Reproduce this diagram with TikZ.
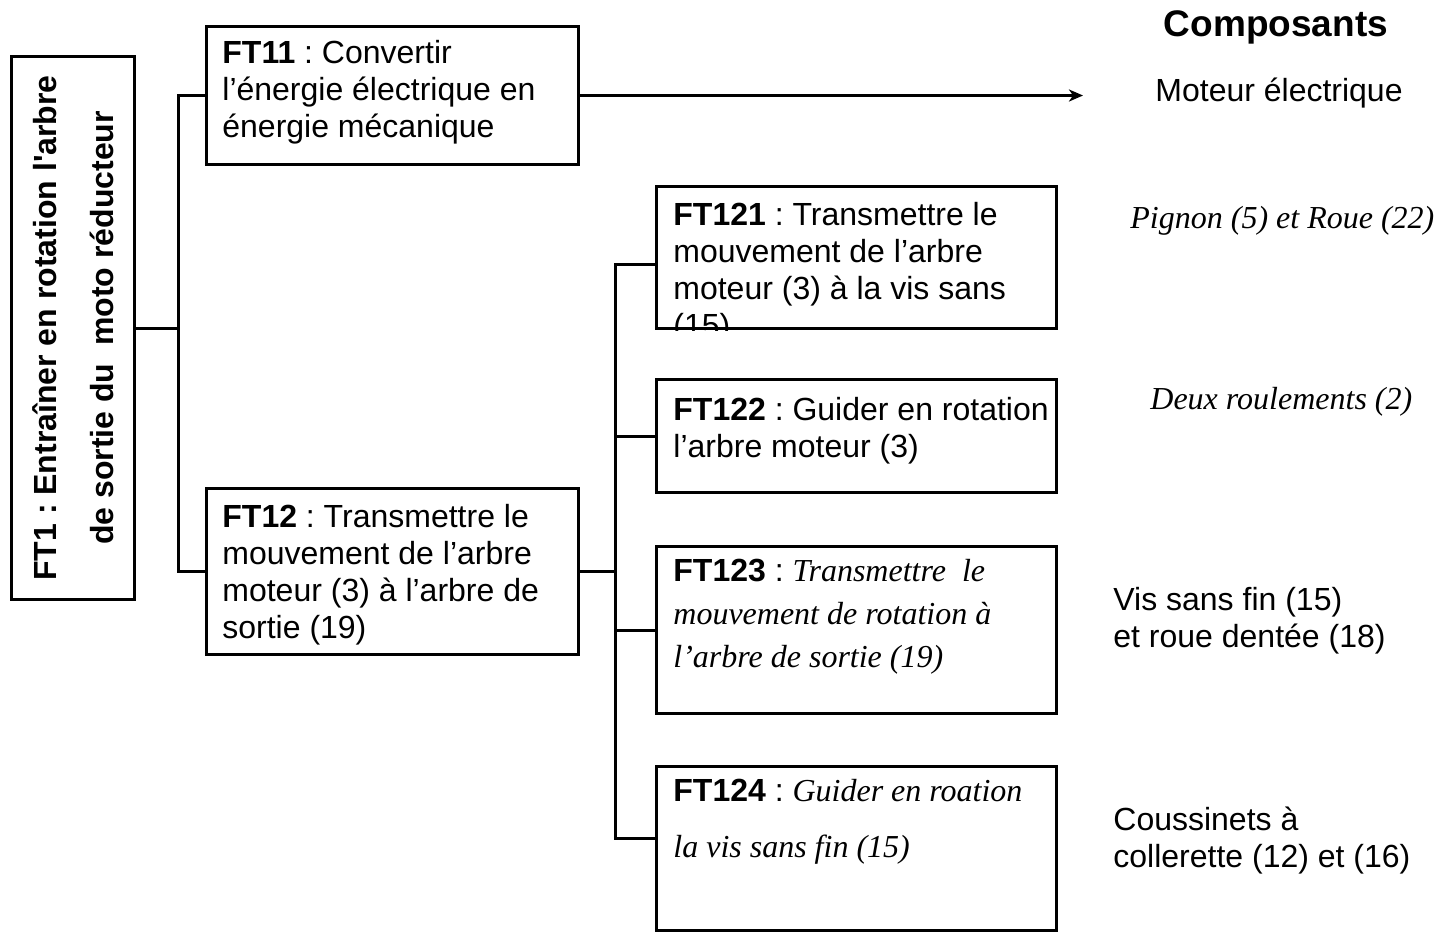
\documentclass[tikz,border=0pt]{standalone}
\usepackage{fontspec}
\setmainfont{Liberation Serif}
\setsansfont{Liberation Sans}
\usetikzlibrary{arrows.meta,positioning}
\frenchspacing

\newcommand{\serifit}[1]{{\rmfamily\itshape #1}}

\tikzset{
  bloc/.style={draw, line width=1.5pt, inner sep=0pt, anchor=north west},
  texte/.style={inner sep=0pt, align=left, font=\sffamily\fontsize{16}{18.5}\selectfont},
  lien/.style={line width=1.5pt},
}

\begin{document}
\begin{tikzpicture}[x=1pt,y=-1pt]
\useasboundingbox (0,0) rectangle (726,466);

% blocs
\node[bloc, minimum width=61.5pt, minimum height=271.5pt] (ft1) at (5,27.5) {};
\node[bloc, minimum width=186pt, minimum height=69pt] (ft11) at (102.5,12.5) {};
\node[bloc, minimum width=186pt, minimum height=83pt] (ft12) at (102.5,243.5) {};
\node[bloc, minimum width=200pt, minimum height=71pt] (ft121) at (327.5,92.5) {};
\node[bloc, minimum width=200pt, minimum height=56.5pt] (ft122) at (327.5,189) {};
\node[bloc, minimum width=200pt, minimum height=83.5pt] (ft123) at (327.5,272.5) {};
\node[bloc, minimum width=200pt, minimum height=82pt] (ft124) at (327.5,382.5) {};

% textes des blocs
\node[texte, align=center, rotate=90, font=\sffamily\bfseries\fontsize{16}{28.5}\selectfont] (ft1txt) at (ft1.center)
  {FT1 : Entraîner en rotation l\textquotesingle arbre\\de sortie du\ \ moto réducteur};
\node[texte, below right=7.5pt and 8.5pt of ft11.north west] (ft11txt)
  {\textbf{FT11} : Convertir\\l’énergie électrique en\\énergie mécanique};
\node[texte, below right=8.5pt and 8.5pt of ft12.north west] (ft12txt)
  {\textbf{FT12} : Transmettre le\\mouvement de l’arbre\\moteur (3) à l’arbre de\\sortie (19)};
\begin{scope}
\clip (ft121.north west) rectangle (ft121.south east);
\node[texte, below right=8.5pt and 9pt of ft121.north west] (ft121txt)
  {\textbf{FT121} : Transmettre le\\mouvement de l’arbre\\moteur (3) à la vis sans\\(15)};
\end{scope}
\node[texte, below right=9.5pt and 9pt of ft122.north west] (ft122txt)
  {\textbf{FT122} : Guider en rotation\\l’arbre moteur (3)};
\node[texte, font=\sffamily\fontsize{16}{21.5}\selectfont, below right=7pt and 9pt of ft123.north west] (ft123txt)
  {\textbf{FT123} : \serifit{Transmettre\ \ le}\\\serifit{mouvement de rotation à}\\\serifit{l’arbre de sortie (19)}};
\node[texte, font=\sffamily\fontsize{16}{28}\selectfont, below right=7pt and 9pt of ft124.north west] (ft124txt)
  {\textbf{FT124} : \serifit{Guider en roation}\\\serifit{la vis sans fin (15)}};

% composants
\node[texte, anchor=base, font=\sffamily\bfseries\fontsize{18.5}{22}\selectfont] (compo) at (638,18) {Composants};
\node[texte, anchor=base west] (moteur) at (577.5,50.5) {Moteur électrique};
\node[texte, anchor=base west, font=\rmfamily\itshape\fontsize{16}{18.5}\selectfont] (pignon) at (565,114) {Pignon (5) et Roue (22)};
\node[texte, anchor=base west, font=\rmfamily\itshape\fontsize{16}{18.5}\selectfont] (roul) at (575,204.5) {Deux roulements (2)};
\node[texte, anchor=north west] (vis) at (556.5,293.5) {Vis sans fin (15)\\et roue dentée (18)};
\node[texte, anchor=north west] (couss) at (556.5,403.5) {Coussinets à\\collerette (12) et (16)};

% liaisons
\path (ft1.east) ++(21,0) coordinate (bus1);
\draw[lien] (ft1.east) -- (bus1);
\draw[lien] (ft11.west) -| (bus1) |- (ft12.west);
\path (ft12.east) ++(17.5,0) coordinate (bus2);
\draw[lien] (ft12.east) -- (bus2);
\draw[lien] ([yshift=-3.5pt]ft121.west) -| (bus2) |- ([yshift=5pt]ft124.west);
\draw[lien] (bus2 |- ft122.west) -- (ft122.west);
\draw[lien] (bus2 |- ft123.west) -- (ft123.west);
\draw[lien, -{Stealth[length=7pt, width=6pt, inset=2pt]}, shorten >=36pt] (ft11.east) -- (ft11.east -| moteur.west);
\end{tikzpicture}
\end{document}
